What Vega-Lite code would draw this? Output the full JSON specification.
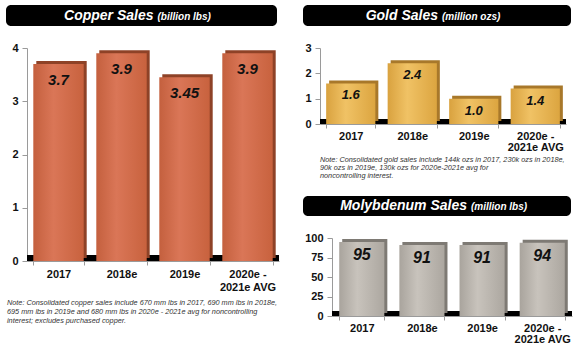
{
  "$schema": "https://vega.github.io/schema/vega-lite/v6.json",
  "background": "white",
  "datasets": {
    "copper": [
      {"period": "2017", "value": 3.7, "label": "3.7"},
      {"period": "2018e", "value": 3.9, "label": "3.9"},
      {"period": "2019e", "value": 3.45, "label": "3.45"},
      {"period": "2020e - 2021e AVG", "value": 3.9, "label": "3.9"}
    ],
    "gold": [
      {"period": "2017", "value": 1.6, "label": "1.6"},
      {"period": "2018e", "value": 2.4, "label": "2.4"},
      {"period": "2019e", "value": 1.0, "label": "1.0"},
      {"period": "2020e - 2021e AVG", "value": 1.4, "label": "1.4"}
    ],
    "moly": [
      {"period": "2017", "value": 95, "label": "95"},
      {"period": "2018e", "value": 91, "label": "91"},
      {"period": "2019e", "value": 91, "label": "91"},
      {"period": "2020e - 2021e AVG", "value": 94, "label": "94"}
    ],
    "blank": [{}]
  },
  "spacing": 20,
  "hconcat": [
    {
      "spacing": 16,
      "vconcat": [
        {
          "width": 271, "height": 21,
          "view": {"fill": "#000000", "cornerRadius": 5, "stroke": null},
          "data": {"values": [{"main": "Copper Sales", "unit": "(billion lbs)"}]},
          "layer": [
            {"mark": {"type": "text", "align": "right", "baseline": "middle", "dx": 12, "font": "Liberation Sans", "fontSize": 14, "fontWeight": "bold", "fontStyle": "italic", "color": "white"}, "encoding": {"text": {"field": "main"}}},
            {"mark": {"type": "text", "align": "left", "baseline": "middle", "dx": 16, "dy": 1, "font": "Liberation Sans", "fontSize": 10, "fontWeight": "bold", "fontStyle": "italic", "color": "white"}, "encoding": {"text": {"field": "unit"}}}
          ]
        },
        {
          "spacing": 0,
          "hconcat": [
            {"width": 1, "height": 1, "data": {"name": "blank"}, "mark": {"type": "rule", "opacity": 0}, "encoding": {}},
            {
              "width": 252, "height": 213,
              "data": {"name": "copper"},
              "title": {
                "text": [
                  "Note:  Consolidated copper sales include 670 mm lbs in 2017, 690 mm lbs in 2018e,",
                  "\u00a0\u00a0\u00a0\u00a0\u00a0\u00a0\u00a0\u00a0\u00a0\u00a0695 mm lbs in 2019e and 680 mm lbs in 2020e - 2021e avg for noncontrolling",
                  "\u00a0\u00a0\u00a0\u00a0\u00a0\u00a0\u00a0\u00a0\u00a0\u00a0interest; excludes purchased copper."
                ],
                "orient": "bottom", "anchor": "start", "frame": "bounds", "offset": 7,
                "font": "Liberation Sans", "fontSize": 7.3, "fontStyle": "italic", "fontWeight": "normal", "color": "#333333", "lineHeight": 9
              },
              "layer": [
                {
                  "mark": {"type": "rule", "strokeWidth": 6, "color": "#000000", "yOffset": -3},
                  "encoding": {
                    "y": {"datum": 0, "type": "quantitative", "scale": {"domain": [0, 4], "nice": false},
                      "axis": {"title": null, "values": [0, 1, 2, 3, 4], "tickCount": 10, "format": "d", "labelOverlap": false, "tickSize": 5, "labelPadding": 4, "minExtent": 20}}
                  }
                },
                {
                  "mark": {"type": "bar", "color": "#8E4227", "xOffset": 3, "yOffset": -3},
                  "encoding": {
                    "x": {"field": "period", "type": "nominal", "sort": null, "scale": {"paddingInner": 0.2, "paddingOuter": 0.1},
                      "axis": {"title": null, "labelAngle": 0, "labelExpr": "datum.label == '2020e - 2021e AVG' ? ['2020e -', '2021e AVG'] : datum.label", "tickBand": "extent", "tickSize": 4, "labelPadding": 3, "labelLineHeight": 13}},
                    "y": {"field": "value", "type": "quantitative",
                      "axis": {"title": null, "values": [0, 1, 2, 3, 4], "tickCount": 10, "format": "d", "labelOverlap": false, "tickSize": 5, "labelPadding": 4, "minExtent": 20}}
                  }
                },
                {
                  "mark": {"type": "bar", "color": {"gradient": "linear", "x1": 0, "x2": 1, "y1": 0, "y2": 0, "stops": [{"offset": 0, "color": "#C4603E"}, {"offset": 0.4, "color": "#DA7657"}, {"offset": 1, "color": "#C8623E"}]}},
                  "encoding": {
                    "x": {"field": "period", "type": "nominal", "sort": null},
                    "y": {"field": "value", "type": "quantitative"}
                  }
                },
                {
                  "mark": {"type": "text", "dy": 16, "baseline": "middle", "font": "Liberation Sans", "fontSize": 15, "fontWeight": "bold", "fontStyle": "italic", "color": "#111111"},
                  "encoding": {
                    "x": {"field": "period", "type": "nominal", "sort": null},
                    "y": {"field": "value", "type": "quantitative"},
                    "text": {"field": "label"}
                  }
                }
              ]
            }
          ]
        }
      ]
    },
    {
      "spacing": 16,
      "vconcat": [
        {
          "width": 268, "height": 21,
          "view": {"fill": "#000000", "cornerRadius": 5, "stroke": null},
          "data": {"values": [{"main": "Gold Sales", "unit": "(million ozs)"}]},
          "layer": [
            {"mark": {"type": "text", "align": "right", "baseline": "middle", "dx": 1, "font": "Liberation Sans", "fontSize": 14, "fontWeight": "bold", "fontStyle": "italic", "color": "white"}, "encoding": {"text": {"field": "main"}}},
            {"mark": {"type": "text", "align": "left", "baseline": "middle", "dx": 5, "dy": 1, "font": "Liberation Sans", "fontSize": 10, "fontWeight": "bold", "fontStyle": "italic", "color": "white"}, "encoding": {"text": {"field": "unit"}}}
          ]
        },
        {
          "spacing": 0,
          "hconcat": [
            {"width": 1, "height": 1, "data": {"name": "blank"}, "mark": {"type": "rule", "opacity": 0}, "encoding": {}},
            {
              "width": 246, "height": 76,
              "data": {"name": "gold"},
              "title": {
                "text": [
                  "Note:  Consolidated gold sales include 144k ozs in 2017, 230k ozs in 2018e,",
                  "\u00a0\u00a0\u00a0\u00a0\u00a0\u00a0\u00a0\u00a0\u00a0\u00a090k ozs in 2019e, 130k ozs for 2020e-2021e avg for",
                  "\u00a0\u00a0\u00a0\u00a0\u00a0\u00a0\u00a0\u00a0\u00a0\u00a0noncontrolling interest."
                ],
                "orient": "bottom", "anchor": "start", "frame": "group", "offset": 4,
                "font": "Liberation Sans", "fontSize": 7.3, "fontStyle": "italic", "fontWeight": "normal", "color": "#333333", "lineHeight": 8
              },
              "layer": [
                {
                  "mark": {"type": "rule", "strokeWidth": 5, "color": "#000000", "yOffset": -2.5},
                  "encoding": {
                    "y": {"datum": 0, "type": "quantitative", "scale": {"domain": [0, 3], "nice": false},
                      "axis": {"title": null, "values": [0, 1, 2, 3], "tickCount": 10, "format": "d", "labelOverlap": false, "tickSize": 5, "labelPadding": 4, "minExtent": 16}}
                  }
                },
                {
                  "mark": {"type": "bar", "color": "#A8782A", "xOffset": 3, "yOffset": -3},
                  "encoding": {
                    "x": {"field": "period", "type": "nominal", "sort": null, "scale": {"paddingInner": 0.2, "paddingOuter": 0.1},
                      "axis": {"title": null, "labelAngle": 0, "labelExpr": "datum.label == '2020e - 2021e AVG' ? ['2020e -', '2021e AVG'] : datum.label", "tickBand": "extent", "tickSize": 4, "labelPadding": 2, "labelLineHeight": 11}},
                    "y": {"field": "value", "type": "quantitative",
                      "axis": {"title": null, "values": [0, 1, 2, 3], "tickCount": 10, "format": "d", "labelOverlap": false, "tickSize": 5, "labelPadding": 4, "minExtent": 16}}
                  }
                },
                {
                  "mark": {"type": "bar", "color": {"gradient": "linear", "x1": 0, "x2": 1, "y1": 0, "y2": 0, "stops": [{"offset": 0, "color": "#D9A23F"}, {"offset": 0.4, "color": "#F0C265"}, {"offset": 1, "color": "#DCA540"}]}},
                  "encoding": {
                    "x": {"field": "period", "type": "nominal", "sort": null},
                    "y": {"field": "value", "type": "quantitative"}
                  }
                },
                {
                  "mark": {"type": "text", "dy": 12, "baseline": "middle", "font": "Liberation Sans", "fontSize": 13, "fontWeight": "bold", "fontStyle": "italic", "color": "#111111"},
                  "encoding": {
                    "x": {"field": "period", "type": "nominal", "sort": null},
                    "y": {"field": "value", "type": "quantitative"},
                    "text": {"field": "label"}
                  }
                }
              ]
            }
          ]
        },
        {
          "width": 268, "height": 20,
          "view": {"fill": "#000000", "cornerRadius": 5, "stroke": null},
          "data": {"values": [{"main": "Molybdenum Sales", "unit": "(million lbs)"}]},
          "layer": [
            {"mark": {"type": "text", "align": "right", "baseline": "middle", "dx": 30, "font": "Liberation Sans", "fontSize": 14, "fontWeight": "bold", "fontStyle": "italic", "color": "white"}, "encoding": {"text": {"field": "main"}}},
            {"mark": {"type": "text", "align": "left", "baseline": "middle", "dx": 34, "dy": 1, "font": "Liberation Sans", "fontSize": 10, "fontWeight": "bold", "fontStyle": "italic", "color": "white"}, "encoding": {"text": {"field": "unit"}}}
          ]
        },
        {
          "spacing": 0,
          "hconcat": [
            {"width": 1, "height": 1, "data": {"name": "blank"}, "mark": {"type": "rule", "opacity": 0}, "encoding": {}},
            {
              "width": 240, "height": 78,
              "data": {"name": "moly"},
              "layer": [
                {
                  "mark": {"type": "rule", "strokeWidth": 5, "color": "#000000", "yOffset": -2.5},
                  "encoding": {
                    "y": {"datum": 0, "type": "quantitative", "scale": {"domain": [0, 100], "nice": false},
                      "axis": {"title": null, "values": [0, 25, 50, 75, 100], "tickCount": 10, "format": "d", "labelOverlap": false, "tickSize": 5, "labelPadding": 4, "minExtent": 19}}
                  }
                },
                {
                  "mark": {"type": "bar", "color": "#7E7A74", "xOffset": 3, "yOffset": -3},
                  "encoding": {
                    "x": {"field": "period", "type": "nominal", "sort": null, "scale": {"paddingInner": 0.25, "paddingOuter": 0.12},
                      "axis": {"title": null, "labelAngle": 0, "labelExpr": "datum.label == '2020e - 2021e AVG' ? ['2020e -', '2021e AVG'] : datum.label", "tickBand": "extent", "tickSize": 4, "labelPadding": 2, "labelLineHeight": 11}},
                    "y": {"field": "value", "type": "quantitative",
                      "axis": {"title": null, "values": [0, 25, 50, 75, 100], "tickCount": 10, "format": "d", "labelOverlap": false, "tickSize": 5, "labelPadding": 4, "minExtent": 19}}
                  }
                },
                {
                  "mark": {"type": "bar", "color": {"gradient": "linear", "x1": 0, "x2": 1, "y1": 0, "y2": 0, "stops": [{"offset": 0, "color": "#A9A49D"}, {"offset": 0.4, "color": "#C8C3BC"}, {"offset": 1, "color": "#ACA7A0"}]}},
                  "encoding": {
                    "x": {"field": "period", "type": "nominal", "sort": null},
                    "y": {"field": "value", "type": "quantitative"}
                  }
                },
                {
                  "mark": {"type": "text", "dy": 13, "baseline": "middle", "font": "Liberation Sans", "fontSize": 16, "fontWeight": "bold", "fontStyle": "italic", "color": "#111111"},
                  "encoding": {
                    "x": {"field": "period", "type": "nominal", "sort": null},
                    "y": {"field": "value", "type": "quantitative"},
                    "text": {"field": "label"}
                  }
                }
              ]
            }
          ]
        }
      ]
    }
  ],
  "config": {
    "view": {"stroke": null},
    "font": "Liberation Sans",
    "axis": {
      "labelFont": "Liberation Sans",
      "labelFontWeight": "bold",
      "labelFontSize": 11,
      "labelColor": "#111111",
      "domainColor": "#9a9a9a",
      "tickColor": "#9a9a9a",
      "grid": false
    }
  }
}
